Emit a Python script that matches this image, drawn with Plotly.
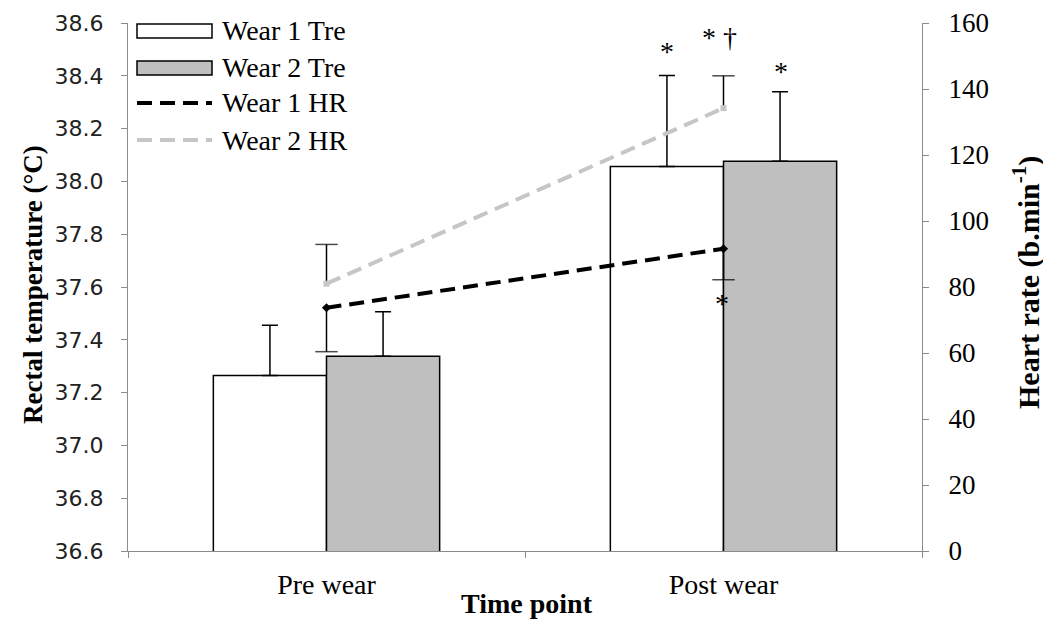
import plotly.graph_objects as go

# ---- data ----
categories = ["Pre wear", "Post wear"]
tre_wear1 = [37.265, 38.056]
tre_wear1_err = [0.19, 0.345]
tre_wear2 = [37.338, 38.076]
tre_wear2_err = [0.168, 0.264]
hr_wear1 = [73.7, 91.6]
hr_wear1_err_down = [13.3, 9.4]
hr_wear2 = [81.0, 134.2]
hr_wear2_err_up = [11.9, 9.8]

left_ticks = [36.6, 36.8, 37.0, 37.2, 37.4, 37.6, 37.8, 38.0, 38.2, 38.4, 38.6]
right_ticks = [0, 20, 40, 60, 80, 100, 120, 140, 160]

OFF = 8  # page body margin
W, H = 1043, 620
ML, MR, MT, MB = 120, 129, 15, 77
PW = W - ML - MR
PH = H - MT - MB

def px(xp):
    # page pixel x -> paper coordinate
    return (xp - OFF - ML) / PW

def py(yp):
    # page pixel y -> paper coordinate
    return (H - MB - (yp - OFF)) / PH

SERIF = "Liberation Serif"
AX = "#8a8a8a"

fig = go.Figure()

fig.add_trace(go.Bar(
    x=categories, y=tre_wear1, name="Wear 1 Tre",
    marker=dict(color="white", line=dict(color="black", width=1.5)),
    error_y=dict(type="data", symmetric=False, array=tre_wear1_err,
                 arrayminus=[0, 0], color="black", thickness=1.5, width=8),
    showlegend=False))
fig.add_trace(go.Bar(
    x=categories, y=tre_wear2, name="Wear 2 Tre",
    marker=dict(color="#bfbfbf", line=dict(color="black", width=1.5)),
    error_y=dict(type="data", symmetric=False, array=tre_wear2_err,
                 arrayminus=[0, 0], color="black", thickness=1.5, width=8),
    showlegend=False))

# HR error bars (one-sided) drawn as short segments with a cap
for i, c in enumerate(categories):
    fig.add_trace(go.Scatter(
        x=[c, c], y=[hr_wear2[i], hr_wear2[i] + hr_wear2_err_up[i]], yaxis="y2",
        mode="lines+markers", line=dict(color="black", width=1.5),
        marker=dict(symbol="line-ew", size=[0, 16], color="black",
                    line=dict(color="black", width=1.5)),
        showlegend=False, hoverinfo="skip"))
    fig.add_trace(go.Scatter(
        x=[c, c], y=[hr_wear1[i], hr_wear1[i] - hr_wear1_err_down[i]], yaxis="y2",
        mode="lines+markers", line=dict(color="black", width=1.5),
        marker=dict(symbol="line-ew", size=[0, 16], color="black",
                    line=dict(color="black", width=1.5)),
        showlegend=False, hoverinfo="skip"))

fig.add_trace(go.Scatter(
    x=categories, y=hr_wear2, name="Wear 2 HR", yaxis="y2",
    mode="lines+markers", line=dict(color="#c6c6c6", width=4, dash="15px,8px"),
    marker=dict(symbol="square", size=6, color="#c6c6c6"),
    showlegend=False))
fig.add_trace(go.Scatter(
    x=categories, y=hr_wear1, name="Wear 1 HR", yaxis="y2",
    mode="lines+markers", line=dict(color="black", width=4, dash="15px,8px"),
    marker=dict(symbol="diamond", size=7, color="black"),
    showlegend=False))

# ---- significance markers ----
annots = []
star_font = dict(family=SERIF, size=28, color="black")
annots.append(dict(x=categories[1], y=tre_wear1[1] + tre_wear1_err[1], xref="x", yref="y",
                   text="*", showarrow=False, font=star_font, xshift=-57, yshift=24))
annots.append(dict(x=categories[1], y=tre_wear2[1] + tre_wear2_err[1], xref="x", yref="y",
                   text="*", showarrow=False, font=star_font, xshift=57, yshift=20))
annots.append(dict(x=categories[1], y=hr_wear2[1] + hr_wear2_err_up[1], xref="x", yref="y2",
                   text="* †", showarrow=False, font=star_font, xshift=-4, yshift=38))
annots.append(dict(x=categories[1], y=hr_wear1[1] - hr_wear1_err_down[1], xref="x", yref="y2",
                   text="*", showarrow=False, font=star_font, xshift=-2, yshift=-24))

# ---- axis titles ----
annots.append(dict(x=px(33), y=py(285), xref="paper", yref="paper",
                   xanchor="center", yanchor="middle",
                   text="<b>Rectal temperature (°C)</b>", textangle=-90, showarrow=False,
                   font=dict(family=SERIF, size=27, color="black")))
annots.append(dict(x=px(1026), y=py(283), xref="paper", yref="paper",
                   xanchor="center", yanchor="middle",
                   text="<b>Heart rate (b.min<sup>-1</sup>)</b>", textangle=-90, showarrow=False,
                   font=dict(family=SERIF, size=30, color="black")))
annots.append(dict(x=px(527), y=py(603), xref="paper", yref="paper",
                   xanchor="center", yanchor="middle", text="<b>Time point</b>",
                   showarrow=False, font=dict(family=SERIF, size=28, color="black")))

# ---- custom legend ----
legend_names = ["Wear 1 Tre", "Wear 2 Tre", "Wear 1 HR", "Wear 2 HR"]
legend_y = [31, 67, 103, 140]
shapes = []
shapes.append(dict(type="rect", xref="paper", yref="paper", x0=px(137), x1=px(212),
                   y0=py(38), y1=py(24), fillcolor="white", line=dict(color="black", width=1.5)))
shapes.append(dict(type="rect", xref="paper", yref="paper", x0=px(137), x1=px(212),
                   y0=py(75), y1=py(61), fillcolor="#bfbfbf", line=dict(color="black", width=1.5)))
shapes.append(dict(type="line", xref="paper", yref="paper", x0=px(137), x1=px(212),
                   y0=py(legend_y[2]), y1=py(legend_y[2]),
                   line=dict(color="black", width=4, dash="15px,8px")))
shapes.append(dict(type="line", xref="paper", yref="paper", x0=px(137), x1=px(212),
                   y0=py(legend_y[3]), y1=py(legend_y[3]),
                   line=dict(color="#c6c6c6", width=4, dash="15px,8px")))
for name, ly in zip(legend_names, legend_y):
    annots.append(dict(x=px(220), y=py(ly), xref="paper", yref="paper", text=name,
                       xanchor="left", yanchor="middle", showarrow=False,
                       font=dict(family=SERIF, size=28, color="black")))

fig.update_layout(
    width=W, height=H,
    margin=dict(l=ML, r=MR, t=MT, b=MB, autoexpand=False),
    paper_bgcolor="white", plot_bgcolor="white",
    barmode="group", bargap=0.43, bargroupgap=0,
    showlegend=False,
    xaxis=dict(type="category", categoryorder="array", categoryarray=categories,
               range=[-0.5, 1.5], showline=True, linecolor=AX, linewidth=1.3,
               ticks="outside", tickson="boundaries", ticklen=6, tickcolor=AX,
               ticklabelstandoff=8, automargin=False,
               tickfont=dict(family=SERIF, size=28, color="black"), showgrid=False),
    yaxis=dict(range=[36.6, 38.6], tickvals=left_ticks, tickformat=".1f",
               showline=True, linecolor=AX, linewidth=1.3, ticks="outside", ticklen=6,
               tickcolor=AX, showgrid=False, zeroline=False, ticklabelstandoff=13,
               automargin=False,
               tickfont=dict(family="DejaVu Sans", size=22, color="#222")),
    yaxis2=dict(range=[0, 160], tickvals=right_ticks, overlaying="y", side="right",
                showline=True, linecolor=AX, linewidth=1.3, ticks="outside", ticklen=6,
                tickcolor=AX, showgrid=False, zeroline=False, ticklabelstandoff=14,
                automargin=False,
                tickfont=dict(family=SERIF, size=27, color="black")),
    annotations=annots, shapes=shapes,
)

fig.write_html("out.html")
